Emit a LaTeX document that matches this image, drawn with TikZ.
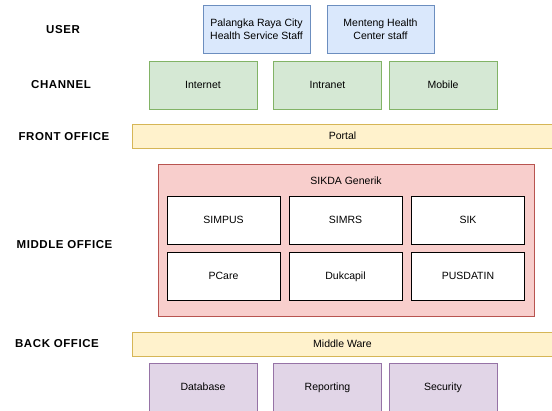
\documentclass[tikz,border=0pt]{standalone}
\usepackage{fontspec}
\setmainfont{Liberation Sans}
\newfontfamily\layerfont[LetterSpace=5]{Liberation Sans}
\definecolor{bfill}{HTML}{DAE8FC}\definecolor{bdraw}{HTML}{6C8EBF}
\definecolor{gfill}{HTML}{D5E8D4}\definecolor{gdraw}{HTML}{82B366}
\definecolor{yfill}{HTML}{FFF2CC}\definecolor{ydraw}{HTML}{D6B656}
\definecolor{rfill}{HTML}{F8CECC}\definecolor{rdraw}{HTML}{B85450}
\definecolor{pfill}{HTML}{E1D5E7}\definecolor{pdraw}{HTML}{9673A6}
\begin{document}
\begin{tikzpicture}[x=1pt,y=-1pt,
  box/.style={rectangle,inner sep=1pt,line width=0.8pt,font=\fontsize{10.5}{12.5}\selectfont,align=center},
  one/.style={text height=0.82em,text depth=0.1em},
  userbox/.style={box,fill=bfill,draw=bdraw,minimum width=107pt,minimum height=48pt},
  chanbox/.style={box,one,fill=gfill,draw=gdraw,minimum width=108pt,minimum height=48pt},
  barbox/.style={box,one,fill=yfill,draw=ydraw,minimum width=421pt,minimum height=24pt},
  sikbox/.style={box,fill=rfill,draw=rdraw,minimum width=376pt,minimum height=152pt},
  modbox/.style={box,one,fill=white,draw=black,minimum width=113pt,minimum height=48pt},
  backbox/.style={box,one,fill=pfill,draw=pdraw,minimum width=108pt,minimum height=48pt},
  layer/.style={font=\layerfont\bfseries\fontsize{11.5}{13}\selectfont}]
\useasboundingbox (0,0) rectangle (552,410);
\node[layer] (lu) at (63,30) {USER};
\node[layer] (lc) at (61,85) {CHANNEL};
\node[layer] (lf) at (64,137) {FRONT OFFICE};
\node[layer] (lm) at (64.5,245) {MIDDLE OFFICE};
\node[layer] (lb) at (57,344) {BACK OFFICE};
\node[userbox] (u1) at (256.5,29) {Palangka Raya City\\Health Service Staff};
\node[userbox] (u2) at (380.5,29) {Menteng Health\\Center staff};
\node[chanbox] (c1) at (203,85) {Internet};
\node[chanbox] (c2) at (327.5,85) {Intranet};
\node[chanbox] (c3) at (443,85) {Mobile};
\node[barbox] (portal) at (342.5,136) {Portal};
\node[sikbox] (sik) at (346,240) {};
\node[box,one] (siklbl) at (346,181) {SIKDA Generik};
\node[modbox] (m1) at (223.5,220) {SIMPUS};
\node[modbox] (m2) at (345.5,220) {SIMRS};
\node[modbox] (m3) at (468,220) {SIK};
\node[modbox] (m4) at (223.5,276) {PCare};
\node[modbox] (m5) at (345.5,276) {Dukcapil};
\node[modbox] (m6) at (468,276) {PUSDATIN};
\node[barbox] (mw) at (342.5,344) {Middle Ware};
\node[backbox] (b1) at (203,387) {Database};
\node[backbox] (b2) at (327.5,387) {Reporting};
\node[backbox] (b3) at (443,387) {Security};
\end{tikzpicture}
\end{document}
